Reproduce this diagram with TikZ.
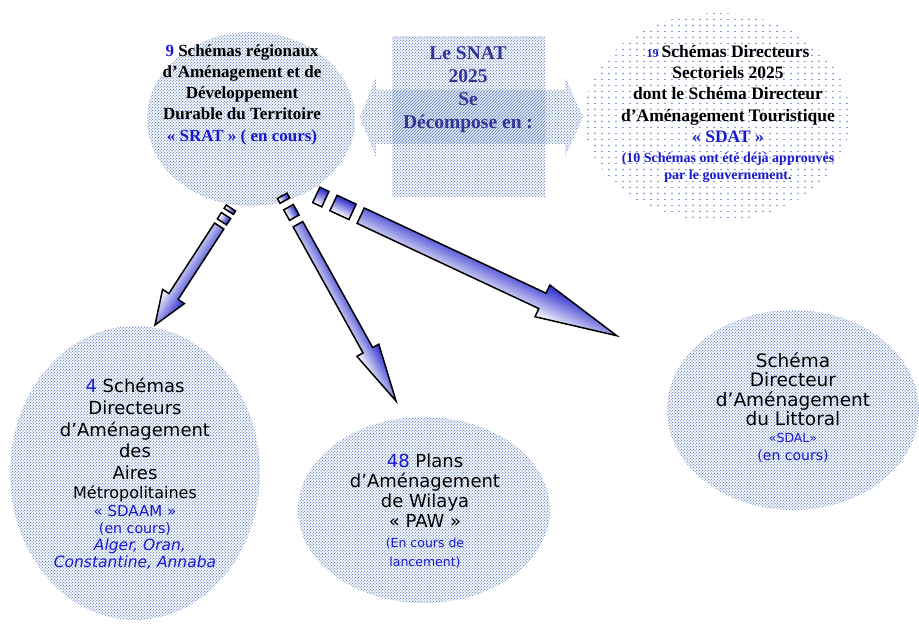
\documentclass[tikz,border=0pt]{standalone}
\usepackage{fontspec}
\setmainfont{Liberation Serif}
\newfontfamily\vsans[ItalicFont={DejaVu Sans Oblique}]{DejaVu Sans}
\usetikzlibrary{shapes.geometric,patterns.meta}

\definecolor{dotblue}{RGB}{70,110,175}
\definecolor{numblue}{RGB}{25,25,205}
\definecolor{snatblue}{RGB}{51,51,153}
\definecolor{arrowblue}{RGB}{40,40,205}

\tikzdeclarepattern{
  name=densedots,
  type=uncolored,
  bounding box={(0pt,0pt) and (3.4pt,3.4pt)},
  tile size={(3.4pt,3.4pt)},
  code={
    \pgfpathcircle{\pgfpoint{0.85pt}{0.85pt}}{0.72pt}
    \pgfpathcircle{\pgfpoint{2.55pt}{2.55pt}}{0.72pt}
    \pgfusepath{fill}
  }
}
\tikzdeclarepattern{
  name=sparsedots,
  type=uncolored,
  bounding box={(0pt,0pt) and (6.5pt,6pt)},
  tile size={(6.5pt,6pt)},
  code={
    \pgfpathcircle{\pgfpoint{3.25pt}{3pt}}{0.85pt}
    \pgfusepath{fill}
  }
}

\tikzset{
  dotell/.style={ellipse, inner sep=0pt, pattern=densedots, pattern color=dotblue},
  sparseell/.style={ellipse, inner sep=0pt, pattern=sparsedots, pattern color=dotblue},
  dotfill/.style={pattern=densedots, pattern color=dotblue},
  sertext/.style={align=center, inner sep=0pt, font=\bfseries\fontsize{17}{21.25}\selectfont},
  snattext/.style={align=center, inner sep=0pt, text=snatblue, font=\bfseries\fontsize{19.5}{23}\selectfont},
  sanstext/.style={align=center, inner sep=0pt, font=\vsans\fontsize{18}{21.65}\selectfont},
  blockarrow/.style={draw=black, line width=1.5pt, line join=miter, top color=arrowblue, bottom color=white}
}

% striped block arrow from coordinate #1 (tail) to #2 (tip)
% #3 shaft half width, #4 head half width, #5 head length, #6 stripe 1, #7 gap, #8 stripe 2
\newcommand\StripedArrow[8]{%
  \pgfpointdiff{\pgfpointanchor{#1}{center}}{\pgfpointanchor{#2}{center}}%
  \pgfgetlastxy{\saDX}{\saDY}%
  \pgfmathsetmacro\saAng{atan2(\saDY,\saDX)}%
  \pgfmathsetmacro\saLen{veclen(\saDX,\saDY)}%
  \pgfmathsetmacro\saA{#6}%
  \pgfmathsetmacro\saB{#6+#7}%
  \pgfmathsetmacro\saC{#6+#7+#8}%
  \pgfmathsetmacro\saD{#6+2*#7+#8}%
  \pgfmathsetmacro\saE{\saLen-#5}%
  \begin{scope}[transform canvas={shift={(#1)},rotate=\saAng}]
    \path[blockarrow] (0pt,-#3pt) rectangle (\saA pt,#3pt);
    \path[blockarrow] (\saB pt,-#3pt) rectangle (\saC pt,#3pt);
    \path[blockarrow] (\saD pt,-#3pt) -- (\saE pt,-#3pt) -- (\saE pt,-#4pt)
       -- (\saLen pt,0pt) -- (\saE pt,#4pt) -- (\saE pt,#3pt) -- (\saD pt,#3pt) -- cycle;
  \end{scope}%
}

\begin{document}
\begin{tikzpicture}[x=1pt,y=-1pt]
\useasboundingbox (0,0) rectangle (919,628);

% ellipses
\node[dotell, minimum width=208, minimum height=174] (srat) at (251,119) {};
\node[sparseell, minimum width=266, minimum height=208] (sdat) at (717,117) {};
\node[dotell, minimum width=250, minimum height=294] (sdaam) at (135,473) {};
\node[dotell, minimum width=252, minimum height=186] (paw) at (424,510) {};
\node[dotell, minimum width=252, minimum height=200] (sdal) at (793,410) {};

% SNAT cross shape
\node[rectangle, inner sep=0pt, dotfill, minimum width=153, minimum height=160] (snatbox) at (468.5,117) {};
\fill[dotfill] (360,117) -- (376,77) -- (376,90) -- (565,90) -- (565,77) -- (583,117)
   -- (565,157) -- (565,144) -- (376,144) -- (376,157) -- cycle;

% texts
\node[sertext] (srattext) at (242,94.5) {{\color{numblue}9} Schémas régionaux\\d’Aménagement et de\\Développement\\Durable du Territoire\\{\color{numblue}« SRAT » ( en cours)}};

\node[snattext] (snattxt) at (468,89.5) {Le SNAT\\2025\\Se\\Décompose en :};

\node[sertext, font=\bfseries\fontsize{17.5}{21.25}\selectfont] (sdattext) at (728,114)
  {{\color{numblue}\fontsize{12}{14}\selectfont 19 }Schémas Directeurs\\Sectoriels 2025\\dont le Schéma Directeur\\d’Aménagement Touristique\\{\color{numblue}« SDAT »}\\[-1.3pt]{\color{numblue}\fontsize{14}{16}\selectfont (10 Schémas ont été  déjà approuvés}\\[-4pt]{\color{numblue}\fontsize{14}{16}\selectfont par le gouvernement.}};

\node[sanstext] (sdaamtext) at (135,473.7)
  {{\color{numblue}4} Schémas\\Directeurs\\d’Aménagement\\des\\Aires\\[-2.2pt]{\fontsize{16}{18}\selectfont Métropolitaines}\\[-4.3pt]{\color{numblue}\fontsize{15}{18}\selectfont « SDAAM »}\\[-4.9pt]{\color{numblue}\fontsize{14.2}{18}\selectfont (en cours)}\\[-4.3pt]{\color{numblue}\fontsize{15.5}{18}\selectfont\itshape \ \ Alger, Oran,}\\[-4.9pt]{\color{numblue}\fontsize{15.5}{18}\selectfont\itshape Constantine, Annaba}};

\node[sanstext, font=\vsans\fontsize{18}{20}\selectfont] (pawtext) at (425,511)
  {{\color{numblue}48} Plans\\d’Aménagement\\de Wilaya\\« PAW »\\{\color{numblue}\fontsize{12.5}{16}\selectfont (En cours de}\\[-1.7pt]{\color{numblue}\fontsize{12.5}{16}\selectfont lancement)}};

\node[sanstext, font=\vsans\fontsize{18.5}{19.1}\selectfont] (sdaltext) at (793,407.5)
  {Schéma\\Directeur\\d’Aménagement\\du Littoral\\[-1.4pt]{\color{numblue}\fontsize{12.5}{16}\selectfont «SDAL»}\\[-1.8pt]{\color{numblue}\fontsize{14}{16}\selectfont (en cours)}};

% arrows
\coordinate (a1s) at (230.9,208);
\coordinate (a1e) at (155,325);
\coordinate (a2s) at (282.2,195.8);
\coordinate (a2e) at (396,401);
\coordinate (a3s) at (316.3,194.9);
\coordinate (a3e) at (616.7,335.7);
\StripedArrow{a1s}{a1e}{5.5}{13}{34}{4}{5}{7.5}
\StripedArrow{a2s}{a2e}{5.5}{12.5}{58}{5.5}{7.5}{12}
\StripedArrow{a3s}{a3e}{8.5}{17.5}{82}{10}{9}{21}
\end{tikzpicture}
\end{document}
